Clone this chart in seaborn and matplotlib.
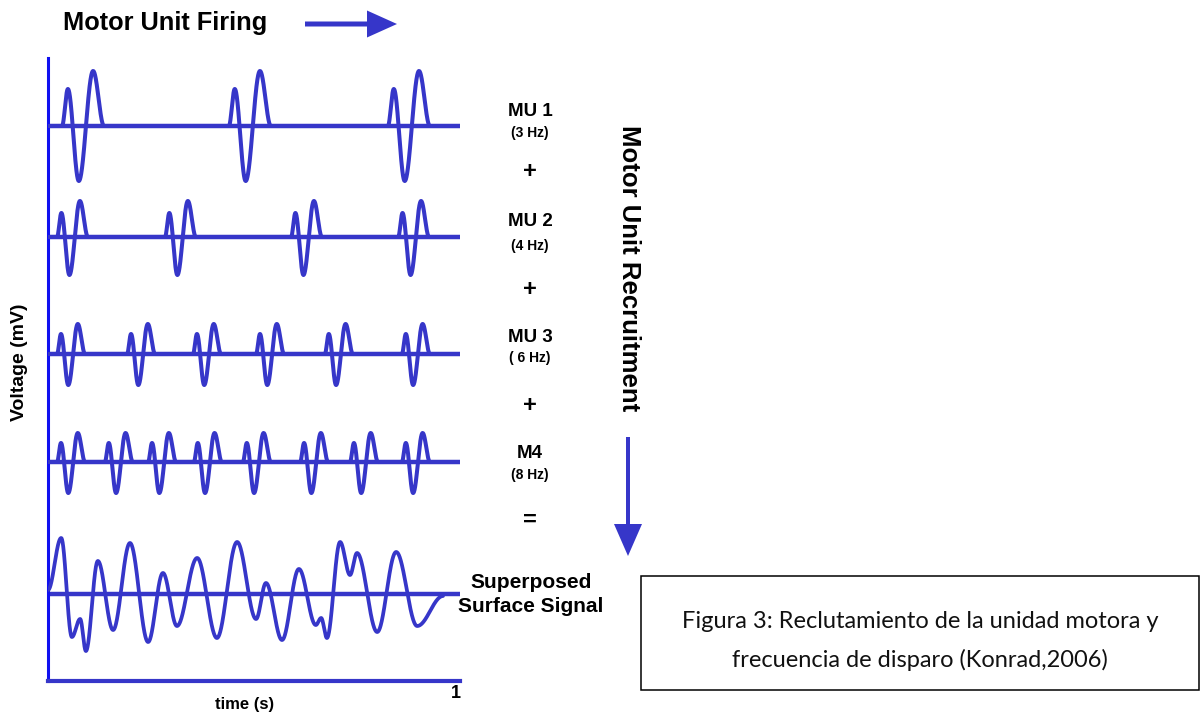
import numpy as np
import pandas as pd
import matplotlib
matplotlib.use("Agg")
import matplotlib.pyplot as plt
import seaborn as sns
from matplotlib.patches import FancyArrow, Rectangle

# ---------------- data ----------------
# firing (spike onset) times in seconds for every motor unit
mu1_times = [0.034, 0.439, 0.825]
mu2_times = [0.022, 0.284, 0.590, 0.850]
mu3_times = [0.022, 0.192, 0.352, 0.505, 0.672, 0.859]
mu4_times = [0.022, 0.138, 0.243, 0.354, 0.473, 0.612, 0.733, 0.859]
# spike durations (s)
mu_durations = [0.102, 0.075, 0.068, 0.068]
# MUAP amplitudes: first positive peak, negative trough, second positive peak (a.u.)
mu1_amp = [3.7, 5.5, 5.5]
mu2_amp = [2.4, 3.8, 3.6]
mu3_amp = [2.0, 3.1, 3.0]
mu4_amp = [1.9, 3.1, 2.9]
mu_labels = ["MU 1", "MU 2", "MU 3", "M4"]
mu_freqs = ["(3 Hz)", "(4 Hz)", "( 6 Hz)", "(8 Hz)"]
operators = ["+", "+", "+", "="]

# superposed surface signal: successive extrema (time s, amplitude a.u.)
sup_t = [0.000, 0.032, 0.058, 0.078, 0.092, 0.121, 0.158, 0.199, 0.243, 0.279,
         0.313, 0.362, 0.410, 0.459, 0.505, 0.529, 0.568, 0.609, 0.650, 0.663,
         0.677, 0.709, 0.733, 0.750, 0.799, 0.845, 0.896, 0.959]
sup_v = [0.4, 5.6, -4.3, -2.5, -5.7, 3.3, -3.6, 5.1, -4.8, 2.1,
         -3.2, 3.6, -4.4, 5.2, -2.5, 1.1, -4.6, 2.5, -3.1, -2.4,
         -4.4, 5.2, 1.9, 4.1, -3.8, 4.2, -3.2, -0.2]

# ---------------- layout / style ----------------
W, H = 1201, 716
WAVE = "#3636C9"
AXIS_BLUE = "#1010F0"
baselines = [55.5, 44.4, 32.7, 21.9]   # vertical offsets of the MU rows
sup_base = 8.7
MUAP_PHASE = [0.0, 0.14, 0.40, 0.74, 1.0]

sns.set_style("white")
plt.rcParams["font.family"] = ["Liberation Sans", "DejaVu Sans"]
plt.rcParams["text.color"] = "black"

fig = plt.figure(figsize=(W / 100, H / 100), dpi=100)
ax = fig.add_axes([48 / W, (H - 681) / H, 412 / W, (681 - 58) / H])
ax.set_xlim(0, 1)
ax.set_ylim(0, 62.3)

t = np.linspace(0, 1, 4001)


def cos_interp(xs, ys, grid):
    xs = np.asarray(xs, float)
    ys = np.asarray(ys, float)
    out = np.full_like(grid, np.nan)
    for i in range(len(xs) - 1):
        m = (grid >= xs[i]) & (grid <= xs[i + 1])
        u = (grid[m] - xs[i]) / (xs[i + 1] - xs[i])
        out[m] = ys[i] + (ys[i + 1] - ys[i]) * (1 - np.cos(np.pi * u)) / 2
    return out


def spike_train(times, dur, amp):
    y = np.zeros_like(t)
    for t0 in times:
        kx = [t0 + p * dur for p in MUAP_PHASE]
        ky = [0.0, amp[0], -amp[1], amp[2], 0.0]
        s = cos_interp(kx, ky, t)
        y = np.where(np.isnan(s), y, s)
    return y


rows = [(mu1_times, mu1_amp), (mu2_times, mu2_amp),
        (mu3_times, mu3_amp), (mu4_times, mu4_amp)]
frames = []
for i, ((times, amp), base) in enumerate(zip(rows, baselines)):
    y = spike_train(times, mu_durations[i], amp) + base
    frames.append(pd.DataFrame({"t": t, "v": y, "row": mu_labels[i]}))

sup_y = cos_interp(sup_t, sup_v, t) + sup_base
sup_df = pd.DataFrame({"t": t, "v": sup_y}).dropna()

# baselines
for base in baselines + [sup_base]:
    ax.hlines(base, 0, 1, color=WAVE, lw=3.2, zorder=2)

for df in frames:
    sns.lineplot(data=df, x="t", y="v", ax=ax, color=WAVE, lw=2.9,
                 estimator=None, sort=False, zorder=3)
sns.lineplot(data=sup_df, x="t", y="v", ax=ax, color=WAVE, lw=2.7,
             estimator=None, sort=False, zorder=3)

ax.set_xlabel("")
ax.set_ylabel("")
ax.set_xticks([])
ax.set_yticks([])
for s in ["top", "right"]:
    ax.spines[s].set_visible(False)
ax.spines["left"].set_color(AXIS_BLUE)
ax.spines["left"].set_linewidth(2.2)
ax.spines["bottom"].set_color(WAVE)
ax.spines["bottom"].set_linewidth(3.0)
ax.patch.set_alpha(0)

# ---------------- overlay for annotations (pixel coordinates) ----------------
ov = fig.add_axes([0, 0, 1, 1], zorder=5)
ov.set_xlim(0, W)
ov.set_ylim(H, 0)
ov.axis("off")
ov.patch.set_alpha(0)

ov.text(63, 23, "Motor Unit Firing", fontsize=18.3, fontweight="bold",
        ha="left", va="center")
ov.add_patch(FancyArrow(305, 24, 92, 0, width=5, head_width=27, head_length=30,
                        length_includes_head=True, color=WAVE, lw=0))

lab_y = [112, 222, 338, 453]
freq_y = [133, 246, 358, 475]
op_y = [172, 289, 405, 520]
for lbl, fq, op, ly, fy, oy in zip(mu_labels, mu_freqs, operators, lab_y, freq_y, op_y):
    ov.text(530, ly, lbl, fontsize=13.5, fontweight="bold", ha="center", va="center")
    ov.text(530, fy, fq, fontsize=10, fontweight="bold", ha="center", va="center")
    ov.text(530, oy, op, fontsize=17, fontweight="bold", ha="center", va="center")

ov.text(531, 582, "Superposed", fontsize=15, fontweight="bold", ha="center", va="center")
ov.text(531, 606, "Surface Signal", fontsize=15, fontweight="bold", ha="center", va="center")

ov.text(629, 268, "Motor Unit Recruitment", fontsize=18.5, fontweight="bold",
        ha="center", va="center", rotation=-90)
ov.add_patch(FancyArrow(628, 437, 0, 119, width=4, head_width=28, head_length=32,
                        length_includes_head=True, color=WAVE, lw=0))

ov.text(20, 362, "Voltage (mV)", fontsize=14, fontweight="bold",
        ha="center", va="center", rotation=90)
ov.text(245, 704, "time (s)", fontsize=12, fontweight="bold", ha="center", va="center")
ov.text(456, 694, "1", fontsize=13, fontweight="bold", ha="center", va="center")

ov.add_patch(Rectangle((641, 576), 558, 114, fill=False, ec="black", lw=1.1))
ov.text(920, 621, "Figura 3: Reclutamiento de la unidad motora y", fontsize=17,
        family="Lato", ha="center", va="center", color="#111111")
ov.text(920, 660, "frecuencia de disparo (Konrad,2006)", fontsize=17,
        family="Lato", ha="center", va="center", color="#111111")

fig.savefig("out.png", dpi=100)
